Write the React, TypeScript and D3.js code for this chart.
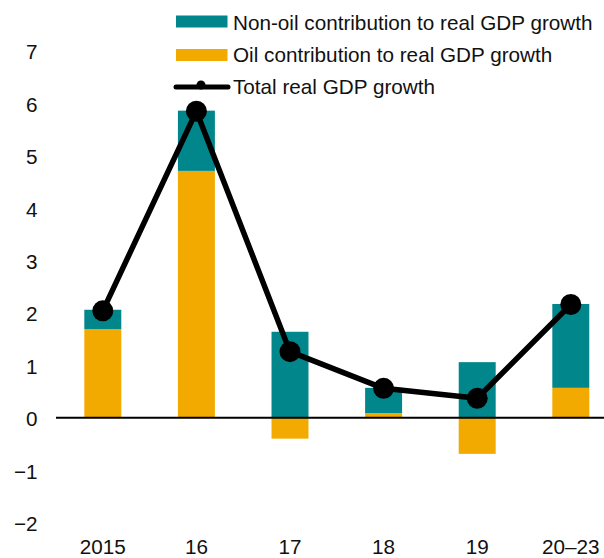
import React from "react";
import * as d3 from "d3";

const categories = ["2015", "16", "17", "18", "19", "20–23"];
const oilContribution = [1.69, 4.71, -0.4, 0.09, -0.69, 0.57];
const nonOilContribution = [0.37, 1.15, 1.64, 0.48, 1.06, 1.6];
const totalGrowth = [2.04, 5.85, 1.26, 0.56, 0.37, 2.16];
const yTicks = [-2, -1, 0, 1, 2, 3, 4, 5, 6, 7];

const W = 604;
const H = 558;
const TEAL = "#00868B";
const ORANGE = "#F2AA00";
const FONT = "'Liberation Sans', Arial, sans-serif";
const FS = 20.7;

export default function App() {
  const x = d3
    .scaleBand<string>()
    .domain(categories)
    .range([56, 56 + 6 * 93.6])
    .paddingInner(0.605)
    .paddingOuter(0.3025);
  const y = d3.scaleLinear().domain([-2, 7]).range([522.5, 50.9]);

  const rows = categories.map((c, i) => ({
    cat: c,
    oil: oilContribution[i],
    nonoil: nonOilContribution[i],
  }));
  const stack = d3
    .stack<any>()
    .keys(["oil", "nonoil"])
    .offset(d3.stackOffsetDiverging);
  const series = stack(rows);
  const colors: Record<string, string> = { oil: ORANGE, nonoil: TEAL };

  const cx = (c: string) => (x(c) as number) + x.bandwidth() / 2;
  const line = d3
    .line<number>()
    .x((_, i) => cx(categories[i]))
    .y((d) => y(d));

  return (
    <svg
      width={W}
      height={H}
      style={{ position: "absolute", left: 0, top: 0, background: "#fff" }}
      fontFamily={FONT}
    >
      {/* bars */}
      {series.map((s) => (
        <g key={s.key} fill={colors[s.key]}>
          {s.map((d, i) => (
            <rect
              key={i}
              x={x(categories[i])}
              width={x.bandwidth()}
              y={y(Math.max(d[0], d[1]))}
              height={Math.abs(y(d[0]) - y(d[1]))}
            />
          ))}
        </g>
      ))}
      {/* zero line */}
      <line x1={56} x2={W} y1={y(0)} y2={y(0)} stroke="#000" strokeWidth={2} />
      {/* y tick labels */}
      {yTicks.map((t) => (
        <text
          key={t}
          x={37.5}
          y={y(t) + 8.5}
          textAnchor="end"
          fontSize={FS}
          fill="#111"
        >
          {t < 0 ? "\u2212" + Math.abs(t) : String(t)}
        </text>
      ))}
      {/* x labels */}
      {categories.map((c) => (
        <text
          key={c}
          x={cx(c)}
          y={553.5}
          textAnchor="middle"
          fontSize={FS}
          fill="#111"
        >
          {c}
        </text>
      ))}
      {/* total line */}
      <path
        d={line(totalGrowth) || ""}
        fill="none"
        stroke="#000"
        strokeWidth={5.5}
        strokeLinejoin="round"
      />
      {totalGrowth.map((v, i) => (
        <circle key={i} cx={cx(categories[i])} cy={y(v)} r={10.5} fill="#000" />
      ))}
      {/* legend */}
      <rect x={176} y={15.5} width={51.5} height={12} fill={TEAL} />
      <text x={233} y={30} fontSize={FS} fill="#111">
        Non-oil contribution to real GDP growth
      </text>
      <rect x={176} y={49} width={51.5} height={12} fill={ORANGE} />
      <text x={233} y={62} fontSize={FS} fill="#111">
        Oil contribution to real GDP growth
      </text>
      <line x1={176} x2={228} y1={87} y2={87} stroke="#000" strokeWidth={5} strokeLinecap="round" />
      <circle cx={201} cy={85} r={4.5} fill="#000" />
      <text x={233} y={94} fontSize={FS} fill="#111">
        Total real GDP growth
      </text>
    </svg>
  );
}
